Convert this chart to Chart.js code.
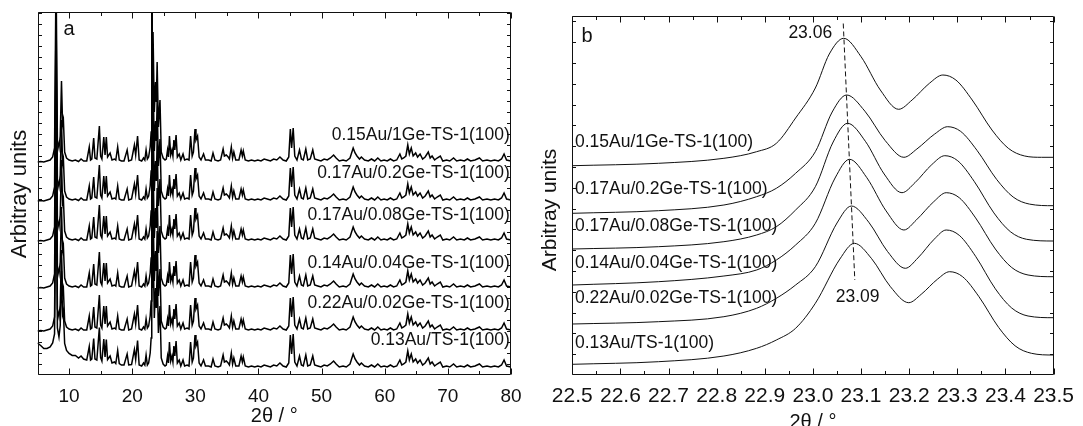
<!DOCTYPE html>
<html><head><meta charset="utf-8">
<script src="https://cdn.jsdelivr.net/npm/chart.js@4.4.1/dist/chart.umd.min.js"></script>
<style>
html,body{margin:0;padding:0;background:#fff;width:1083px;height:426px;overflow:hidden}
canvas{position:absolute;top:0}
#ca{left:0}
#cb{left:540px}
</style></head><body>
<canvas id="ca" width="540" height="426"></canvas>
<canvas id="cb" width="543" height="426"></canvas>
<script>
// ---------------- DATA ----------------
const sampleNames = ['0.15Au/1Ge-TS-1(100)','0.17Au/0.2Ge-TS-1(100)','0.17Au/0.08Ge-TS-1(100)','0.14Au/0.04Ge-TS-1(100)','0.22Au/0.02Ge-TS-1(100)','0.13Au/TS-1(100)'];

// panel a : x tick labels
const xTicksA = [10,20,30,40,50,60,70,80];
const xMinorA = [5,15,25,35,45,55,65,75];
// stacking baselines of the patterns (arbitrary units)
const baselineA = [212.5,173.5,133.5,86.5,43.5,6.5];
// XRD pattern: [2theta, intensity above baseline]
const xrdPattern = [
[5.0,0],[5.5,0.5],[6.0,0],[6.5,1],[7.0,2],[7.4,5],[7.7,14],[7.94,190],[8.15,22],[8.4,14],[8.6,26],[8.8,81],[8.97,38],[9.1,42],[9.3,10],[9.6,4],
[10.0,2],[10.5,1],[11.0,2],[11.5,0.5],[11.9,3],[12.3,1],[12.8,1],[13.2,15],[13.4,2],[13.6,3],[13.9,24],[14.1,4],[14.4,3],[14.8,36],[15.0,6],[15.2,3],
[15.5,25],[15.7,7],[15.9,25],[16.1,5],[16.5,9],[16.8,2],[17.2,3],[17.4,2],[17.7,15],[17.95,2],[18.3,1],[18.7,1],[19.2,12],[19.45,1],[19.9,2],
[20.35,17],[20.55,7],[20.85,26],[21.1,2],[21.5,1],[21.8,4],[22.0,2],[22.2,12],[22.4,3],[22.6,5],[22.85,15],[23.0,30],[23.1,250],[23.2,80],[23.3,130],
[23.5,50],[23.7,80],[23.82,60],[23.95,100],[24.15,35],[24.4,62],[24.6,10],[24.9,4],[25.2,2],[25.4,3],[25.6,12],[25.75,5],[25.9,26],[26.1,7],[26.3,12],
[26.45,6],[26.6,22],[26.75,12],[26.95,27],[27.15,5],[27.45,8],[27.7,2],[28.05,8],[28.3,2],[28.7,3],[29.0,2],[29.25,26],[29.5,6],[29.7,10],[29.95,33],
[30.1,22],[30.35,26],[30.6,5],[30.9,2],[31.3,8],[31.6,2],[32.1,2],[32.5,1],[32.8,9],[33.1,2],[33.6,1],[34.0,2],[34.4,13],[34.6,6],[34.9,7],[35.2,5],
[35.4,3],[35.7,15],[35.9,4],[36.1,10],[36.4,2],[36.9,2],[37.25,12],[37.45,6],[37.6,11],[37.9,2],[38.4,1],[38.9,2],[39.4,1],[39.9,2],[40.4,1],[40.9,3],
[41.4,2],[41.9,1],[42.4,3],[42.9,2],[43.4,5],[43.9,2],[44.4,1],[44.8,5],[45.05,33],[45.25,14],[45.5,34],[45.75,6],[46.1,2],[46.5,12],[46.8,3],[47.1,2],
[47.5,13],[47.8,2],[48.2,3],[48.6,12],[48.9,3],[49.4,2],[49.9,1],[50.4,3],[50.9,2],[51.4,4],[51.9,7],[52.3,4],[52.8,1],[53.4,2],[53.9,1],[54.5,4],
[55.0,14],[55.3,9],[55.6,6],[56.0,3],[56.3,5],[56.8,2],[57.4,1],[57.9,3],[58.4,1],[58.9,4],[59.4,1],[59.9,2],[60.4,1],[60.9,3],[61.4,1],[61.9,2],
[62.4,8],[62.7,3],[63.0,4],[63.35,6],[63.65,17],[63.9,8],[64.2,14],[64.5,6],[64.9,9],[65.2,5],[65.6,8],[66.0,3],[66.4,5],[66.9,10],[67.2,4],[67.5,6],
[67.9,2],[68.3,4],[68.8,6],[69.2,1],[69.8,2],[70.3,1],[70.9,4],[71.4,1],[72.0,2],[72.6,1],[73.1,3],[73.6,1],[74.3,2],[75.0,4],[75.5,1],[76.2,2],
[76.8,1],[77.4,2],[78.0,1],[78.5,3],[78.9,8],[79.3,2],[80.0,1]
];
// extra low-angle background of the bare TS-1 sample (bottom trace)
const ts1LowAngle = [
[5.0,25],[5.5,22],[6.0,19.5],[6.5,18.5],[7.0,19],[7.4,20],[7.7,20],[7.94,19],[8.15,18],[8.4,17],[8.6,16.5],[8.8,16],[8.97,15.5],[9.1,15],[9.3,14.5],
[9.6,13.5],[10.0,12.5],[10.5,11.5],[11.0,10.5],[11.5,9.5],[11.9,9],[12.3,8],[12.8,7],[13.2,6.5],[13.4,6],[13.6,6],[13.9,5.5],[14.1,5],[14.4,5],
[14.8,4.5],[15.0,4.5],[15.2,4],[15.5,4],[15.7,4],[15.9,3.5],[16.1,3.5],[16.5,3],[16.8,3],[17.2,3],[17.4,2.5],[17.7,2.5],[17.95,2.5],[18.3,2],
[18.7,2],[19.2,2],[19.45,2],[19.9,1.5],[20.35,1.5],[20.55,1.5],[20.85,1.5],[21.1,1],[21.5,1],[21.8,1],[22.0,1],[22.2,1]
];

// panel b : x tick labels
const xTicksB = [22.5,22.6,22.7,22.8,22.9,23.0,23.1,23.2,23.3,23.4,23.5];
const xMinorB = [22.55,22.65,22.75,22.85,22.95,23.05,23.15,23.25,23.35,23.45];
// zoomed (101) region traces : [2theta, intensity]
const zoom1Ge = [[22.5,209.3],[22.679,211.7],[22.815,216.7],[22.883,223.3],[22.924,231.7],[22.964,257],[23.005,287],[23.034,321],[23.064,336.7],[23.1,318.3],[23.14,285],[23.178,265.7],[23.206,275],[23.242,291.7],[23.27,300],[23.297,295],[23.331,275],[23.372,245],[23.406,226.7],[23.44,219],[23.475,217.7],[23.5,217.7],[23.51,217.7]];
const zoom02Ge = [[22.5,161.7],[22.679,164.3],[22.815,170],[22.883,178.3],[22.924,186.7],[22.964,201.7],[23.005,223.3],[23.04,263],[23.07,280],[23.108,263.8],[23.15,234.5],[23.189,217.7],[23.216,226],[23.253,241],[23.28,248.3],[23.307,243.6],[23.341,224.6],[23.382,195.4],[23.416,178],[23.45,170.9],[23.5,169.3],[23.51,169.3]];
const zoom008Ge = [[22.5,126],[22.679,128.3],[22.815,133.3],[22.883,140],[22.924,148.3],[22.964,165],[23.005,188.3],[23.042,233],[23.072,251.7],[23.109,233.7],[23.148,201],[23.185,182.3],[23.212,192.3],[23.247,210.4],[23.274,219.3],[23.301,214.2],[23.335,193.7],[23.376,162.1],[23.41,143.4],[23.444,135.7],[23.5,134],[23.51,134]];
const zoom004Ge = [[22.5,90],[22.679,93.3],[22.815,99],[22.883,105],[22.924,115],[22.964,130],[23.005,151.7],[23.046,197],[23.076,215.7],[23.112,197.3],[23.152,164.1],[23.189,145],[23.215,155.1],[23.251,173.3],[23.277,182.3],[23.304,177.3],[23.338,157.1],[23.379,126],[23.413,107.5],[23.447,100],[23.5,98.3],[23.51,98.3]];
const zoom002Ge = [[22.5,51],[22.679,53.3],[22.815,58.3],[22.883,66.7],[22.924,76.7],[22.964,90],[23.005,108.3],[23.05,152],[23.08,169],[23.116,152.8],[23.155,123.5],[23.192,106.7],[23.218,117],[23.252,135.8],[23.277,145],[23.304,139.7],[23.338,118.7],[23.379,86.2],[23.413,67],[23.447,59],[23.5,57.3],[23.51,57.3]];
const zoomTS1 = [[22.5,10.7],[22.679,13.3],[22.815,19],[22.883,26.7],[22.924,35],[22.964,46.7],[23.005,71.7],[23.056,116],[23.086,131.7],[23.122,116.3],[23.161,88.3],[23.199,72.3],[23.225,80.7],[23.259,95.9],[23.284,103.3],[23.311,98.3],[23.345,78.3],[23.386,47.5],[23.42,29.2],[23.454,21.7],[23.5,20],[23.51,20]];
const zoomTraces = [zoom1Ge, zoom02Ge, zoom008Ge, zoom004Ge, zoom002Ge, zoomTS1];
// peak-shift guide (dashed) end points and its labels
const shiftLine = [[23.063,351.5],[23.087,95]];
const shiftLabels = ['23.06','23.09'];

// ---------------- LAYOUT / STYLE ----------------
Chart.defaults.font.family = "'Liberation Sans', Arial, Helvetica, sans-serif";
Chart.defaults.color = '#111';
Chart.defaults.animation = false;
const INK = '#111';

function panelPlugin(o) {
  return {
    id: 'panelDecor',
    afterDatasetsDraw(chart) {
      const {ctx, chartArea: a} = chart;
      const xs = chart.scales.x, ys = chart.scales.y;
      const L = Math.round(a.left) + 0.5, R = Math.round(a.right) - 0.5;
      const T = Math.round(a.top) + 0.5, B = Math.round(a.bottom) - 0.5;
      ctx.save();
      ctx.strokeStyle = INK; ctx.lineWidth = 1;
      ctx.beginPath();
      ctx.rect(L, T, R - L, B - T);
      const seg = (x1, y1, x2, y2) => { ctx.moveTo(x1, y1); ctx.lineTo(x2, y2); };
      o.xMajor.forEach(v => { const p = Math.round(xs.getPixelForValue(v)) + 0.5; seg(p, B, p, B - o.majorLen); seg(p, T, p, T + o.majorLen); });
      o.xMinor.forEach(v => { const p = Math.round(xs.getPixelForValue(v)) + 0.5; seg(p, B, p, B - o.minorLen); seg(p, T, p, T + o.minorLen); });
      for (let v = o.yStep; v < ys.max; v += o.yStep) {
        const p = Math.round(ys.getPixelForValue(v)) + 0.5;
        seg(L, p, L + o.yLen, p); seg(R, p, R - o.yLen, p);
      }
      ctx.stroke();
      if (o.extra) o.extra(ctx, xs, ys);
      ctx.fillStyle = INK;
      ctx.textBaseline = 'middle';
      o.texts.forEach(t => {
        ctx.font = t.size + "px 'Liberation Sans', Arial, sans-serif";
        ctx.textAlign = t.align || 'left';
        const px = t.data ? xs.getPixelForValue(t.x) : t.x;
        const py = t.data ? ys.getPixelForValue(t.y) : t.y;
        ctx.fillText(t.text, px, py);
      });
      // y title
      ctx.font = o.yTitle.size + "px 'Liberation Sans', Arial, sans-serif";
      ctx.translate(o.yTitle.x, o.yTitle.y);
      ctx.rotate(-Math.PI / 2);
      ctx.textAlign = 'center';
      ctx.fillText('Arbitray units', 0, 0);
      ctx.restore();
    }
  };
}

// ---------------- PANEL A ----------------
const ts1Map = new Map(ts1LowAngle.map(p => [p[0], p[1]]));
const dataA = sampleNames.map((name, i) => ({
  label: name,
  data: xrdPattern.map(([t, h]) => ({x: t, y: baselineA[i] + h + (i === 5 ? (ts1Map.get(t) || 0) : 0)})),
  borderColor: '#000', borderWidth: 1.5, pointRadius: 0, tension: 0, fill: false
}));
const labelYA = [239.5, 201, 159.5, 111, 71, 34.5];

new Chart(document.getElementById('ca'), {
  type: 'line',
  data: {datasets: dataA},
  options: {
    responsive: false, devicePixelRatio: 1, parsing: true,
    layout: {padding: {left: 37.5, right: 29, top: 12, bottom: 0}},
    plugins: {legend: {display: false}, tooltip: {enabled: false}},
    scales: {
      x: {type: 'linear', min: 5, max: 80,
        afterBuildTicks: s => { s.ticks = xTicksA.map(v => ({value: v})); },
        afterFit: s => { s.height = 51.5; },
        grid: {display: false, drawTicks: false}, border: {display: false},
        ticks: {font: {size: 19}, padding: 11, color: INK, maxRotation: 0, autoSkip: false},
        title: {display: true, text: '2θ / °', font: {size: 20, lineHeight: 1}, padding: {top: 0, bottom: 0}, color: INK}},
      y: {type: 'linear', min: 0, max: 362.5, display: false}
    }
  },
  plugins: [panelPlugin({
    xMajor: xTicksA, xMinor: xMinorA, majorLen: 6, minorLen: 3.5, yStep: 10.95, yLen: 3.5,
    texts: [{text: 'a', x: 69, y: 29, size: 20, align: 'center'}]
      .concat(sampleNames.map((n, i) => ({text: n, x: 79.8, y: labelYA[i], data: true, align: 'right', size: 17.5}))),
    yTitle: {x: 19.5, y: 194, size: 22}
  })]
});

// ---------------- PANEL B ----------------
const dataB = sampleNames.map((name, i) => ({
  label: name,
  data: zoomTraces[i].map(([t, v]) => ({x: t, y: v})),
  borderColor: '#111', borderWidth: 1, pointRadius: 0,
  cubicInterpolationMode: 'monotone', fill: false,
  clip: {left: 0, top: 0, right: 6, bottom: 0}
}));
const labelYB = [233.3, 185.7, 149, 111.7, 76.7, 32.3];

new Chart(document.getElementById('cb'), {
  type: 'line',
  data: {datasets: dataB},
  options: {
    responsive: false, devicePixelRatio: 1,
    layout: {padding: {left: 32.3, right: 20.3, top: 15.7, bottom: 0}},
    plugins: {legend: {display: false}, tooltip: {enabled: false}},
    scales: {
      x: {type: 'linear', min: 22.5, max: 23.5,
        afterBuildTicks: s => { s.ticks = xTicksB.map(v => ({value: v})); },
        afterFit: s => { s.height = 51; },
        grid: {display: false, drawTicks: false}, border: {display: false},
        ticks: {font: {size: 21}, padding: 9, color: INK, maxRotation: 0, autoSkip: false, callback: v => Number(v).toFixed(1)},
        title: {display: true, text: '2θ / °', font: {size: 20, lineHeight: 0.4}, padding: {top: 0, bottom: 0}, color: INK}},
      y: {type: 'linear', min: 0, max: 359.3, display: false}
    }
  },
  plugins: [panelPlugin({
    xMajor: xTicksB, xMinor: xMinorB, majorLen: 6, minorLen: 3.5, yStep: 20.8, yLen: 3.5,
    texts: [{text: 'b', x: 47, y: 36, size: 20, align: 'center'},
      {text: shiftLabels[0], x: 23.040, y: 342, data: true, align: 'right', size: 17.5},
      {text: shiftLabels[1], x: 23.093, y: 78, data: true, align: 'center', size: 17.5}]
      .concat(sampleNames.map((n, i) => ({text: n, x: 22.5055, y: labelYB[i], data: true, align: 'left', size: 17.5}))),
    yTitle: {x: 10, y: 210, size: 21},
    extra: (ctx, xs, ys) => {
      ctx.beginPath();
      ctx.setLineDash([5, 3]);
      ctx.moveTo(xs.getPixelForValue(shiftLine[0][0]), ys.getPixelForValue(shiftLine[0][1]));
      ctx.lineTo(xs.getPixelForValue(shiftLine[1][0]), ys.getPixelForValue(shiftLine[1][1]));
      ctx.stroke();
      ctx.setLineDash([]);
    }
  })]
});
</script>
</body></html>
